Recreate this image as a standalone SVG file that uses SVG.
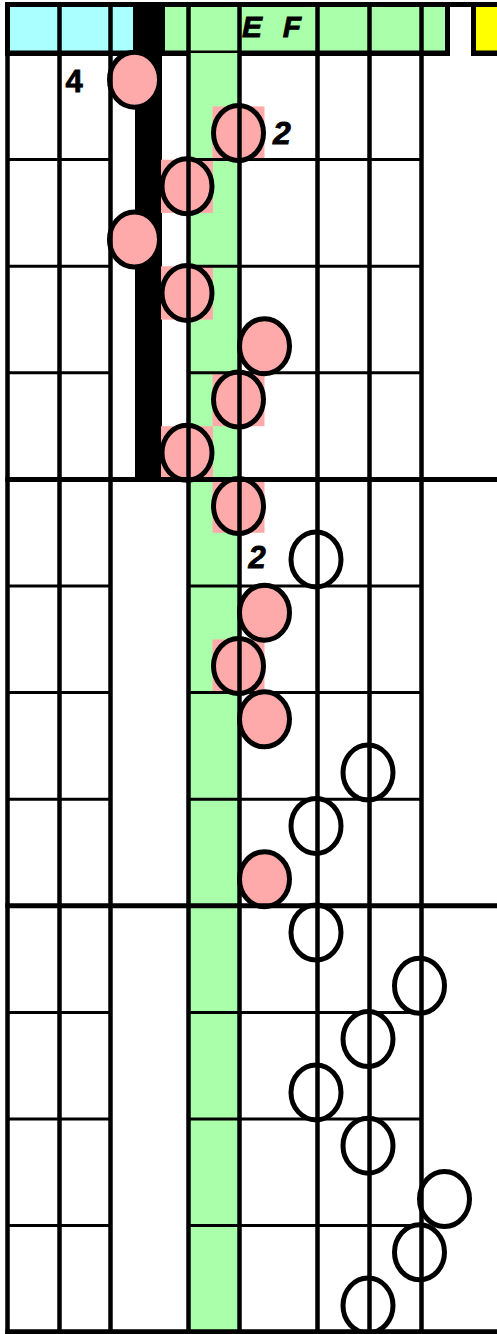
<svg xmlns="http://www.w3.org/2000/svg" width="497" height="1334" viewBox="0 0 497 1334">
<style>
.cyan{fill:#AAFFFF}
.green{fill:#AAFFAA}
.yellow{fill:#FFFF00}
.sq{fill:#FFAAAA}
.vl{stroke:#000;stroke-width:4.5}
.hl{stroke:#000;stroke-width:3}
.hk{stroke:#000;stroke-width:5}
.nf{fill:#FFAAAA;stroke:#000;stroke-width:5}
.no{fill:none;stroke:#000;stroke-width:5}
</style>
<rect x="0" y="0" width="497" height="1334" fill="#fff"/>
<g id="header">
<rect x="5" y="2" width="492" height="54" fill="#000"/>
<rect class="cyan" x="10" y="7" width="50" height="43.5"/>
<rect class="cyan" x="60" y="7" width="50" height="43.5"/>
<rect class="cyan" x="110" y="7" width="23" height="43.5"/>
<rect class="green" x="165" y="7" width="280" height="43.5"/>
<rect x="450" y="7" width="21" height="49" fill="#fff"/>
<rect class="yellow" x="476" y="7" width="21" height="43.5"/>
<text x="252" y="37" font-family="Liberation Sans, Arial, sans-serif" font-weight="bold" font-style="italic" font-size="30" text-anchor="middle" fill="#000" stroke="#000" stroke-width="0.8">E</text>
<text x="292" y="37" font-family="Liberation Sans, Arial, sans-serif" font-weight="bold" font-style="italic" font-size="30" text-anchor="middle" fill="#000" stroke="#000" stroke-width="0.8">F</text>
</g>
<g id="columns">
<rect class="green" x="188.5" y="53" width="51" height="1281"/>
<rect x="135" y="53" width="27" height="426" fill="#000"/>
</g>
<g id="cells">
<rect class="sq" x="212.5" y="106.4" width="52" height="53.3"/>
<rect class="sq" x="161" y="159.7" width="52" height="53.3"/>
<rect class="sq" x="161" y="266.3" width="52" height="53.3"/>
<rect class="sq" x="212.5" y="372.9" width="52" height="53.3"/>
<rect class="sq" x="161" y="426.2" width="52" height="53.3"/>
<rect class="sq" x="212.5" y="479.5" width="52" height="53.3"/>
<rect class="sq" x="212.5" y="639.4" width="52" height="53.3"/>
</g>
<g id="notes">
<ellipse id="n0" class="nf" cx="134.5" cy="79.7" rx="25" ry="27.5"/>
<ellipse id="n1" class="nf" cx="238.5" cy="133" rx="25" ry="27.5"/>
<ellipse id="n2" class="nf" cx="187" cy="186.3" rx="25" ry="27.5"/>
<ellipse id="n3" class="nf" cx="134.5" cy="239.6" rx="25" ry="27.5"/>
<ellipse id="n4" class="nf" cx="187" cy="292.9" rx="25" ry="27.5"/>
<ellipse id="n5" class="nf" cx="264.5" cy="346.2" rx="25" ry="27.5"/>
<ellipse id="n6" class="nf" cx="238.5" cy="399.5" rx="25" ry="27.5"/>
<ellipse id="n7" class="nf" cx="187" cy="452.8" rx="25" ry="27.5"/>
<ellipse id="n8" class="nf" cx="238.5" cy="506.1" rx="25" ry="27.5"/>
<ellipse id="n9" class="no" cx="316" cy="559.4" rx="25" ry="27.5"/>
<ellipse id="n10" class="nf" cx="264.5" cy="612.7" rx="25" ry="27.5"/>
<ellipse id="n11" class="nf" cx="238.5" cy="666" rx="25" ry="27.5"/>
<ellipse id="n12" class="nf" cx="264.5" cy="719.3" rx="25" ry="27.5"/>
<ellipse id="n13" class="no" cx="368" cy="772.6" rx="25" ry="27.5"/>
<ellipse id="n14" class="no" cx="316" cy="825.9" rx="25" ry="27.5"/>
<ellipse id="n15" class="nf" cx="264.5" cy="879.2" rx="25" ry="27.5"/>
<ellipse id="n16" class="no" cx="316" cy="932.5" rx="25" ry="27.5"/>
<ellipse id="n17" class="no" cx="419.5" cy="985.8" rx="25" ry="27.5"/>
<ellipse id="n18" class="no" cx="368" cy="1039.1" rx="25" ry="27.5"/>
<ellipse id="n19" class="no" cx="316" cy="1092.4" rx="25" ry="27.5"/>
<ellipse id="n20" class="no" cx="368" cy="1145.7" rx="25" ry="27.5"/>
<ellipse id="n21" class="no" cx="444.5" cy="1199" rx="25" ry="27.5"/>
<ellipse id="n22" class="no" cx="419.5" cy="1252.3" rx="25" ry="27.5"/>
<ellipse id="n23" class="no" cx="368" cy="1305.6" rx="25" ry="27.5"/>
</g>
<g id="grid">
<line class="vl" x1="7.5" y1="2" x2="7.5" y2="1334"/>
<line class="vl" x1="59.5" y1="2" x2="59.5" y2="1334"/>
<line class="vl" x1="110.5" y1="2" x2="110.5" y2="1334"/>
<line class="vl" x1="188.5" y1="2" x2="188.5" y2="1334"/>
<line class="vl" x1="239.5" y1="2" x2="239.5" y2="1334"/>
<line class="vl" x1="317.5" y1="2" x2="317.5" y2="1334"/>
<line class="vl" x1="369.5" y1="2" x2="369.5" y2="1334"/>
<line class="vl" x1="421.5" y1="2" x2="421.5" y2="1334"/>
<path class="hl" d="M7.5 159.6H110.5M188.5 159.6H421.5M7.5 266.2H110.5M188.5 266.2H421.5M7.5 372.8H110.5M188.5 372.8H421.5M7.5 586H110.5M188.5 586H421.5M7.5 692.6H110.5M188.5 692.6H421.5M7.5 799.2H110.5M188.5 799.2H421.5M7.5 1012.4H110.5M188.5 1012.4H421.5M7.5 1119H110.5M188.5 1119H421.5M7.5 1225.6H110.5M188.5 1225.6H421.5"/>
<path class="hk" d="M5.3 479.4H497M5.3 905.8H497M5.3 1331.7H497"/>
</g>
<g id="labels">
<text x="74" y="92" font-family="Liberation Sans, Arial, sans-serif" font-weight="bold" font-size="31" text-anchor="middle" fill="#000" stroke="#000" stroke-width="0.8">4</text>
<text x="282" y="144" font-family="Liberation Sans, Arial, sans-serif" font-weight="bold" font-style="italic" font-size="32" text-anchor="middle" fill="#000" stroke="#000" stroke-width="0.8">2</text>
<text x="257" y="568" font-family="Liberation Sans, Arial, sans-serif" font-weight="bold" font-style="italic" font-size="31" text-anchor="middle" fill="#000" stroke="#000" stroke-width="0.8">2</text>
</g>
</svg>
